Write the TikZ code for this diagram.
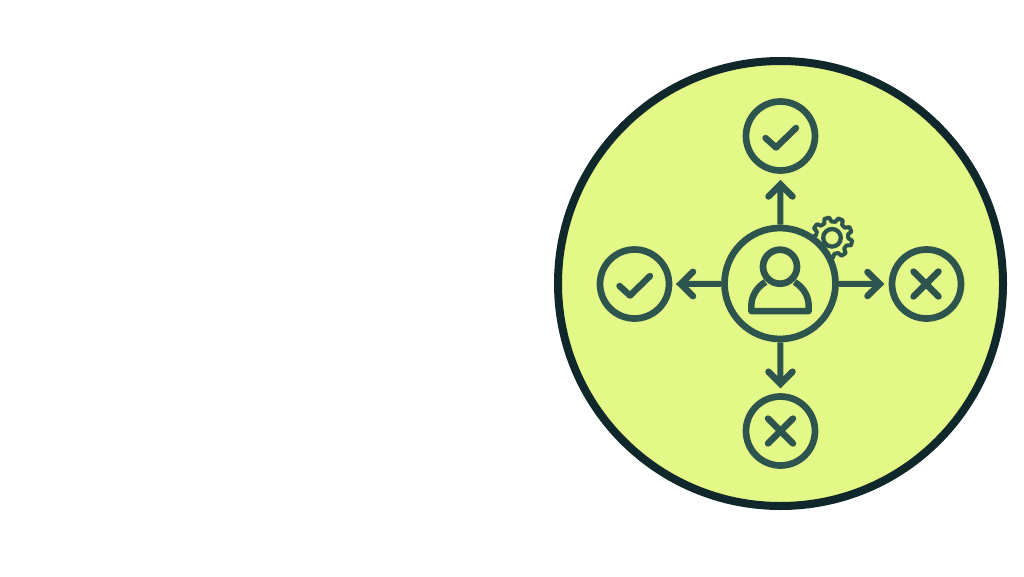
\documentclass[tikz,border=0pt]{standalone}
\definecolor{fillgreen}{HTML}{E3F886}
\definecolor{rimdark}{HTML}{10272B}
\definecolor{iconteal}{HTML}{2E544E}
\tikzset{
  x=1pt,y=-1pt,
  disc/.style={circle,draw=rimdark,fill=fillgreen,line width=8pt,minimum size=445pt,inner sep=0pt,outer sep=0pt},
  badge/.style={circle,draw=iconteal,line width=6.7pt,minimum size=69pt,inner sep=0pt,outer sep=3.3pt},
  hub/.style={circle,draw=iconteal,line width=6.7pt,minimum size=111pt,inner sep=0pt,outer sep=3.3pt},
  glyph/.style={draw=iconteal,line width=6.4pt,line cap=round,line join=round},
  link/.style={draw=iconteal,line width=6pt},
  head/.style={draw=iconteal,line width=6.5pt,line cap=round,line join=miter}
}
\begin{document}
\begin{tikzpicture}
\useasboundingbox (0,0) rectangle (1024,576);
\fill[white] (0,0) rectangle (1024,576);
\node[disc] (big) at (780.5,283.5) {};
\node[badge] (top) at (780.5,136) {};
\node[badge] (left) at (634.5,284) {};
\node[badge] (right) at (926.5,284) {};
\node[badge] (bottom) at (780.5,431) {};
% gear
\begin{scope}[shift={(832,237.8)}]
\draw[iconteal,line width=4pt,line join=round,fill=fillgreen]
  (2:16.3) \foreach \a in {15,55,...,335}{
    -- ({\a-13}:16.3) -- ({\a-7}:20.4) -- ({\a+7}:20.4) -- ({\a+13}:16.3)
    arc[start angle=\a+13,end angle=\a+27,radius=16.3]
  } -- cycle;
\draw[iconteal,line width=4.3pt] (0,0) circle[radius=8.8];
\end{scope}
\node[hub,fill=fillgreen] (center) at (780,283.5) {};
% connectors
\coordinate (topTip) at (780.5,185);
\coordinate (leftTip) at (681,284);
\coordinate (rightTip) at (879,284);
\coordinate (bottomTip) at (780.5,383);
\draw[link] (center) -- (topTip);
\draw[link] (center) -- (leftTip);
\draw[link] (center) -- (rightTip);
\draw[link] (center) -- (bottomTip);
\draw[head] (768.5,196.5) -- (780.5,184.5) -- (792.5,196.5);
\draw[head] (693,271.8) -- (680.6,284) -- (693,296.2);
\draw[head] (867.5,272) -- (879.7,284) -- (867.5,296);
\draw[head] (768.5,371.7) -- (780.5,383.7) -- (792.5,371.7);
% person
\draw[iconteal,line width=6.7pt] (780,266.7) circle[radius=17];
\draw[iconteal,line width=6.5pt,line join=round]
  (765.5,282) .. controls (757,287) and (751.3,296) .. (751.3,306) -- (751.3,311)
  -- (808.7,311) -- (808.7,306) .. controls (808.7,296) and (803,287) .. (794.5,282);
% ticks and crosses
\draw[glyph] (765.5,138) -- (776,147.5) -- (796,128);
\draw[glyph] (619.5,286) -- (630,295.5) -- (650,276);
\draw[glyph] (768,418.5) -- (793,443.5) (793,418.5) -- (768,443.5);
\draw[glyph] (913.5,271.5) -- (938.5,296.5) (938.5,271.5) -- (913.5,296.5);
\end{tikzpicture}
\end{document}
